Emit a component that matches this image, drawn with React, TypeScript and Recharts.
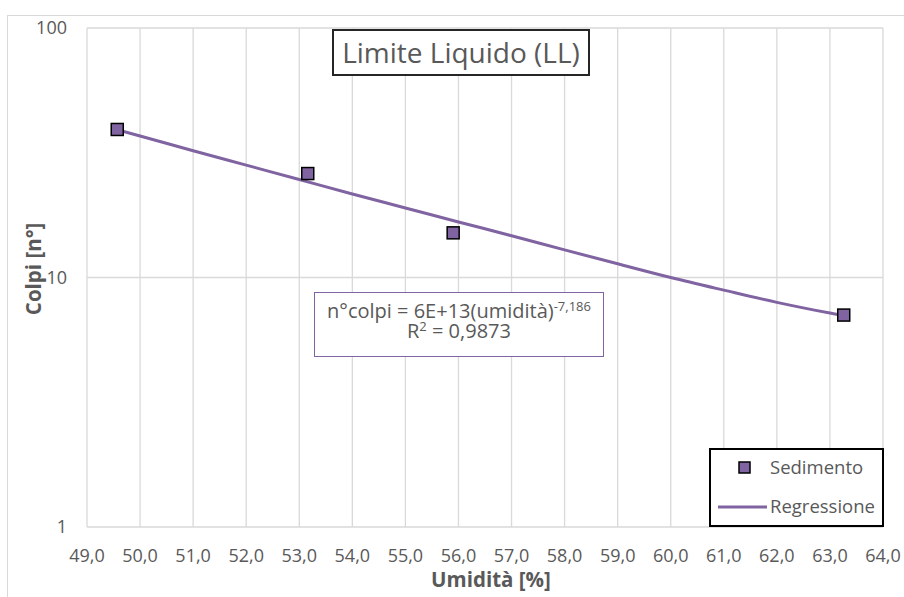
import React from "react";
import {
  ComposedChart,
  Scatter,
  Line,
  XAxis,
  YAxis,
  CartesianGrid,
  Legend,
  Label,
} from "recharts";

// misure di laboratorio (umidità %, numero di colpi)
const umidita = [49.57, 53.16, 55.9, 63.26];
const colpi = [39.2, 26.1, 15.1, 7.07];

// curva di regressione (potenza)
const regUmidita = [49.57, 50, 51, 52, 53, 54, 55, 56, 57, 58, 59, 60, 61, 62, 63, 63.26];
const regColpi = [39.1, 36.9, 32.2, 28.2, 24.7, 21.6, 19.0, 16.7, 14.7, 12.9, 11.35, 10.0, 8.9, 7.95, 7.2, 7.03];

const xTicks = [49, 50, 51, 52, 53, 54, 55, 56, 57, 58, 59, 60, 61, 62, 63, 64];
const yTicks = [1, 10, 100];

const misure = umidita.map((x, i) => ({ x, y: colpi[i] }));
const regressione = regUmidita.map((x, i) => ({ x, y: regColpi[i] }));

const VIOLA = "#8064a2";
const GRIGIO = "#595959";
const FONT = "'Open Sans', sans-serif";

const Quadrato = (props: any) => {
  const { cx, cy } = props;
  return (
    <rect
      x={cx - 6}
      y={cy - 6}
      width={12}
      height={12}
      fill={VIOLA}
      stroke="#000"
      strokeWidth={1.5}
    />
  );
};

const LegendaBox = () => (
  <div
    style={{
      width: 175,
      height: 79,
      boxSizing: "border-box",
      border: "2px solid #000",
      background: "#fff",
      position: "relative",
    }}
  >
    <svg width={171} height={75} style={{ position: "absolute", left: 0, top: 0 }}>
      <rect x={28} y={12} width={11} height={11} fill={VIOLA} stroke="#000" strokeWidth={1.5} />
      <text x={59} y={24} fill={GRIGIO} fontSize={18.5} fontFamily={FONT}>
        Sedimento
      </text>
      <line x1={7} y1={57} x2={56} y2={57} stroke={VIOLA} strokeWidth={3} />
      <text x={59} y={63} fill={GRIGIO} fontSize={18.5} fontFamily={FONT}>
        Regressione
      </text>
    </svg>
  </div>
);

const fmtX = (v: number) => v.toFixed(1).replace(".", ",");

const supStyle = { fontSize: 13, lineHeight: 0, verticalAlign: "7px" };

export default function App() {
  return (
    <div
      style={{
        position: "absolute",
        left: 0,
        top: 0,
        width: 904,
        height: 597,
        overflow: "hidden",
        background: "#fff",
        fontFamily: FONT,
      }}
    >
      <div
        style={{
          position: "absolute",
          left: 7,
          top: 15,
          width: 1200,
          height: 1200,
          border: "1px solid #d9d9d9",
        }}
      />
      <ComposedChart
        width={904}
        height={597}
        margin={{ top: 28, right: 21, bottom: 0, left: 0 }}
        style={{ position: "absolute", left: 0, top: 0 }}
      >
        <CartesianGrid stroke="#d9d9d9" strokeWidth={1.3} />
        <XAxis
          dataKey="x"
          type="number"
          domain={[49, 64]}
          ticks={xTicks}
          tickFormatter={fmtX}
          axisLine={false}
          tickLine={false}
          tickSize={0}
          tickMargin={22}
          height={70}
          interval={0}
          allowDataOverflow
          tick={{ fontSize: 18, fill: GRIGIO, fontFamily: FONT }}
        >
          <Label
            content={() => (
              <text
                x={491}
                y={587}
                textAnchor="middle"
                fill={GRIGIO}
                fontSize={20.5}
                fontWeight="bold"
                fontFamily={FONT}
              >
                Umidità [%]
              </text>
            )}
          />
        </XAxis>
        <YAxis
          dataKey="y"
          type="number"
          scale="log"
          domain={[1, 100]}
          ticks={yTicks}
          allowDataOverflow
          axisLine={false}
          tickLine={false}
          tickSize={0}
          tickMargin={20}
          width={87}
          interval={0}
          tick={{ fontSize: 18, fill: GRIGIO, fontFamily: FONT }}
        >
          <Label
            content={() => (
              <text
                x={33}
                y={269}
                transform="rotate(-90 33 269)"
                textAnchor="middle"
                dominantBaseline="central"
                fill={GRIGIO}
                fontSize={20.5}
                fontWeight="bold"
                fontFamily={FONT}
              >
                Colpi [n°]
              </text>
            )}
          />
        </YAxis>
        <Line
          data={regressione}
          dataKey="y"
          type="monotone"
          name="Regressione"
          stroke={VIOLA}
          strokeWidth={3}
          dot={false}
          isAnimationActive={false}
        />
        <Scatter
          data={misure}
          dataKey="y"
          name="Sedimento"
          shape={<Quadrato />}
          isAnimationActive={false}
        />
        <Legend
          layout="vertical"
          align="center"
          verticalAlign="middle"
          content={() => <LegendaBox />}
          wrapperStyle={{ left: 709, top: 448, width: 175, height: 79 }}
        />
      </ComposedChart>

      {/* titolo */}
      <div
        style={{
          position: "absolute",
          left: 332,
          top: 29,
          width: 258,
          height: 47,
          boxSizing: "border-box",
          border: "2px solid #262626",
          background: "#fff",
          color: GRIGIO,
          fontSize: 28,
          lineHeight: "42px",
          textAlign: "center",
          whiteSpace: "nowrap",
        }}
      >
        Limite Liquido (LL)
      </div>

      {/* equazione della regressione */}
      <div
        style={{
          position: "absolute",
          left: 314,
          top: 292,
          width: 290,
          height: 65,
          boxSizing: "border-box",
          border: "1.5px solid " + VIOLA,
          background: "#fff",
          color: GRIGIO,
          fontSize: 20,
          lineHeight: "19.5px",
          textAlign: "center",
          paddingTop: 8,
          whiteSpace: "nowrap",
        }}
      >
        <div>
          n°colpi = 6E+13(umidità)
          <sup style={supStyle}>-7,186</sup>
        </div>
        <div>
          R<sup style={supStyle}>2</sup> = 0,9873
        </div>
      </div>
    </div>
  );
}
